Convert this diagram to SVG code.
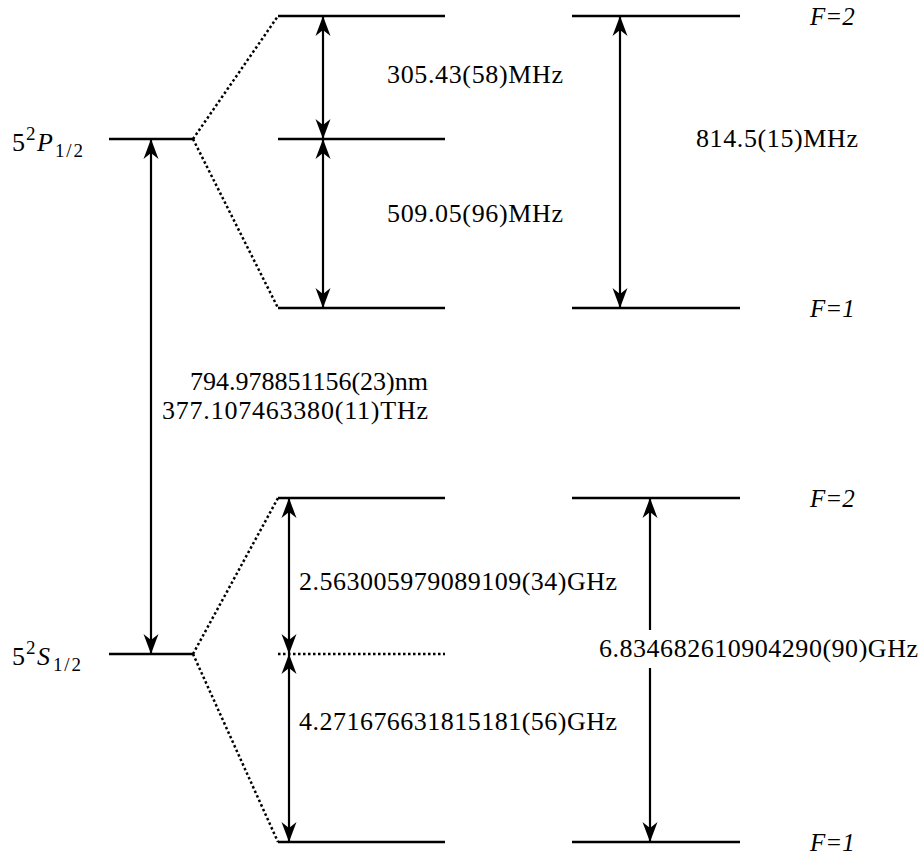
<svg xmlns="http://www.w3.org/2000/svg" width="923" height="859" viewBox="0 0 923 859">
<defs>
<marker id="ah" viewBox="-22 -9 24 18" markerUnits="userSpaceOnUse" markerWidth="24" markerHeight="18" refX="0" refY="0" orient="auto-start-reverse">
<path d="M0,0 L-20,-7.5 L-14,0 L-20,7.5 Z" fill="#000"/>
</marker>
</defs>
<style>
.lvl{stroke:#000;stroke-width:2.5;fill:none}
.dot{stroke:#000;stroke-width:2.5;fill:none;stroke-dasharray:2.5,2.5}
.arr{stroke:#000;stroke-width:2.2;fill:none;marker-start:url(#ah);marker-end:url(#ah)}
.t{font-family:"Liberation Serif","DejaVu Serif",serif;font-size:26px;fill:#000}
.f{font-family:"Liberation Serif","DejaVu Serif",serif;font-size:25px;font-style:italic;fill:#000}
.s{font-size:19px}
</style>
<rect width="923" height="859" fill="#fff"/>
<g id="P12">
<line class="lvl" x1="109" y1="139" x2="193" y2="139"/>
<text class="t" y="151"><tspan x="12">5</tspan><tspan class="s" x="26" y="140">2</tspan><tspan font-style="italic" x="37" y="151">P</tspan><tspan class="s" x="55" y="157" textLength="28">1/2</tspan></text>
</g>
<g id="S12">
<line class="lvl" x1="109" y1="654" x2="193" y2="654"/>
<text class="t" y="665"><tspan x="12">5</tspan><tspan class="s" x="26" y="654">2</tspan><tspan font-style="italic" x="37" y="665">S</tspan><tspan class="s" x="53" y="671" textLength="28">1/2</tspan></text>
</g>
<g id="P-F2">
<line class="lvl" x1="278" y1="16" x2="445" y2="16"/>
<line class="lvl" x1="572" y1="16" x2="740" y2="16"/>
<text class="f" x="810" y="25">F=2</text>
</g>
<g id="P-mid">
<line class="lvl" x1="278" y1="139" x2="445" y2="139"/>
</g>
<g id="P-F1">
<line class="lvl" x1="278" y1="308" x2="445" y2="308"/>
<line class="lvl" x1="572" y1="308" x2="740" y2="308"/>
<text class="f" x="810" y="317">F=1</text>
</g>
<g id="S-F2">
<line class="lvl" x1="278" y1="498" x2="445" y2="498"/>
<line class="lvl" x1="572" y1="498" x2="740" y2="498"/>
<text class="f" x="810" y="507">F=2</text>
</g>
<g id="S-mid">
<line class="dot" x1="278" y1="654" x2="445" y2="654"/>
</g>
<g id="S-F1">
<line class="lvl" x1="278" y1="842" x2="445" y2="842"/>
<line class="lvl" x1="572" y1="842" x2="740" y2="842"/>
<text class="f" x="810" y="851">F=1</text>
</g>
<g id="connectors">
<line class="dot" x1="193" y1="139" x2="278" y2="16"/>
<line class="dot" x1="193" y1="139" x2="278" y2="308"/>
<line class="dot" x1="193" y1="654" x2="278" y2="498"/>
<line class="dot" x1="193" y1="654" x2="278" y2="842"/>
<line class="arr" x1="151" y1="139" x2="151" y2="654"/>
<line class="arr" x1="323" y1="16" x2="323" y2="139"/>
<line class="arr" x1="323" y1="139" x2="323" y2="308"/>
<line class="arr" x1="620" y1="16" x2="620" y2="308"/>
<line class="arr" x1="289" y1="498" x2="289" y2="654"/>
<line class="arr" x1="289" y1="654" x2="289" y2="842"/>
<line class="lvl" x1="650" y1="498" x2="650" y2="630" style="stroke-width:2.2;marker-start:url(#ah)"/>
<line class="lvl" x1="650" y1="668" x2="650" y2="842" style="stroke-width:2.2;marker-end:url(#ah)"/>
</g>
<g id="labels">
<text class="t" x="387" y="83" textLength="176">305.43(58)MHz</text>
<text class="t" x="387" y="222" textLength="176">509.05(96)MHz</text>
<text class="t" x="696" y="147" textLength="162">814.5(15)MHz</text>
<text class="t" x="428" y="390" text-anchor="end">794.978851156(23)nm</text>
<text class="t" x="162" y="419" textLength="266">377.107463380(11)THz</text>
<text class="t" x="299" y="590" textLength="318">2.563005979089109(34)GHz</text>
<text class="t" x="299" y="730" textLength="318">4.271676631815181(56)GHz</text>
<text class="t" x="599" y="657" textLength="319">6.834682610904290(90)GHz</text>
</g>
</svg>
